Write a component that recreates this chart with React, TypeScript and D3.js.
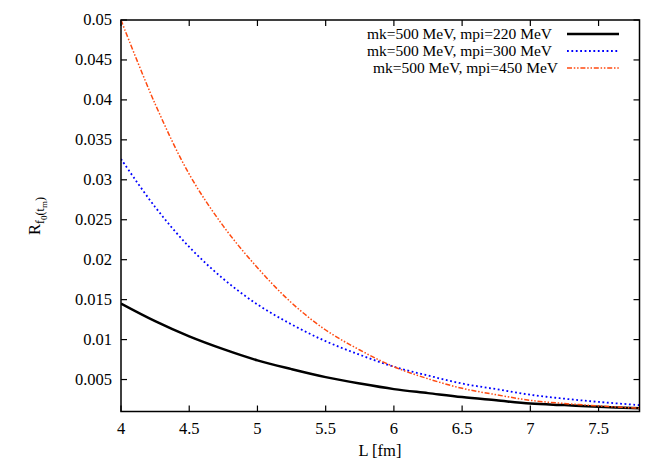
import React from "react";
import * as d3 from "d3";

const Ls = [4, 4.25, 4.5, 4.75, 5, 5.25, 5.5, 5.75, 6, 6.25, 6.5, 6.75, 7, 7.25, 7.5, 7.8];
const s220 = [0.0145, 0.0123, 0.0104, 0.0088, 0.0074, 0.0063, 0.0053, 0.0045, 0.0038, 0.0033, 0.0028, 0.0024, 0.0020, 0.0018, 0.0016, 0.0014];
const s300 = [0.0326, 0.0266, 0.0216, 0.0176, 0.0144, 0.0119, 0.0098, 0.0081, 0.0066, 0.0055, 0.0045, 0.0038, 0.0031, 0.0026, 0.0022, 0.0018];
const s450 = [0.0500, 0.0395, 0.0307, 0.0242, 0.0190, 0.0146, 0.0112, 0.0087, 0.0066, 0.0051, 0.0039, 0.0031, 0.0024, 0.0020, 0.0017, 0.0014];
const xTicks = [4, 4.5, 5, 5.5, 6, 6.5, 7, 7.5];
const yTicks = [0.005, 0.01, 0.015, 0.02, 0.025, 0.03, 0.035, 0.04, 0.045, 0.05];
const legendLabels = ["mk=500 MeV, mpi=220 MeV", "mk=500 MeV, mpi=300 MeV", "mk=500 MeV, mpi=450 MeV"];

const L = 121, R = 639.5, T = 20, B = 411.5;
const FONT = "'Liberation Serif', 'DejaVu Serif', serif";

export default function App() {
  const x = d3.scaleLinear().domain([4, 7.8]).range([L, R]);
  const y = d3.scaleLinear().domain([0.001, 0.05]).range([B, T]);
  const line = (vals: number[]) =>
    d3.line<number>().x((_, i) => x(Ls[i])).y((v) => y(v)).curve(d3.curveCatmullRom.alpha(0.5))(vals) || "";

  const styles = [
    { stroke: "#000000", width: 2.5, dash: undefined as string | undefined },
    { stroke: "#0000ff", width: 1.8, dash: "1.8,2.6" },
    { stroke: "#ff4a10", width: 1.5, dash: "5,1.8,1.5,1.8,1.5,1.8" },
  ];
  const series = [s220, s300, s450];
  const legendY = [34, 51, 68];
  const legendTextRight = [552, 552, 558];
  const tick = 6;

  return (
    <svg width={664} height={465} style={{ position: "absolute", left: 0, top: 0, background: "#fff" }} fontFamily={FONT}>
      <rect x={0} y={0} width={664} height={465} fill="#fff" />
      <defs>
        <clipPath id="plot">
          <rect x={L} y={T} width={R - L} height={B - T} />
        </clipPath>
      </defs>
      {xTicks.map((t) => (
        <g key={"xt" + t}>
          <line x1={x(t)} x2={x(t)} y1={B} y2={B - tick} stroke="#000" strokeWidth={1.2} />
          <line x1={x(t)} x2={x(t)} y1={T} y2={T + tick} stroke="#000" strokeWidth={1.2} />
          <text x={x(t)} y={434} fontSize={16.5} textAnchor="middle">{String(t)}</text>
        </g>
      ))}
      {yTicks.map((t) => (
        <g key={"yt" + t}>
          <line x1={L} x2={L + tick} y1={y(t)} y2={y(t)} stroke="#000" strokeWidth={1.2} />
          <line x1={R} x2={R - tick} y1={y(t)} y2={y(t)} stroke="#000" strokeWidth={1.2} />
          <text x={112} y={y(t)} dy="0.33em" fontSize={16.5} textAnchor="end">{String(t)}</text>
        </g>
      ))}
      <g clipPath="url(#plot)">
        {series.map((s, i) => (
          <path key={i} d={line(s)} fill="none" stroke={styles[i].stroke} strokeWidth={styles[i].width}
            strokeDasharray={styles[i].dash} />
        ))}
      </g>
      <rect x={L} y={T} width={R - L} height={B - T} fill="none" stroke="#000" strokeWidth={1.5} />
      {legendLabels.map((lab, i) => (
        <g key={lab}>
          <text x={legendTextRight[i]} y={legendY[i]} dy="0.33em" fontSize={15.5} textAnchor="end">{lab}</text>
          <line x1={567} x2={619} y1={legendY[i]} y2={legendY[i]} stroke={styles[i].stroke}
            strokeWidth={styles[i].width} strokeDasharray={styles[i].dash} />
        </g>
      ))}
      <text x={380} y={456} fontSize={16.5} textAnchor="middle">L [fm]</text>
      <text transform="translate(40,216) rotate(-90)" fontSize={16.5} textAnchor="middle">
        R<tspan fontSize={12} dy={4}>f</tspan><tspan fontSize={9} dy={3}>0</tspan><tspan fontSize={12} dy={-3}>(t</tspan><tspan fontSize={9} dy={3}>m</tspan><tspan fontSize={12} dy={-3}>)</tspan>
      </text>
    </svg>
  );
}
